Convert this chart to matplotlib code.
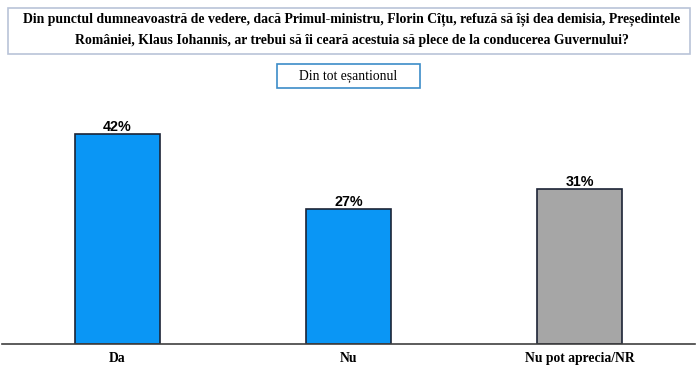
import matplotlib.pyplot as plt
from matplotlib.patches import Rectangle

# Date
categorii = ['Da', 'Nu', 'Nu pot aprecia/NR']
procente = [42, 27, 31]
culori = ['#0a96f5', '#0a96f5', '#a6a6a6']
etichete = ['42%', '27%', '31%']

titlu = ("Din punctul dumneavoastră de vedere, dacă Primul-ministru, Florin Cîțu, refuză să își dea demisia, Președintele\n"
         "României, Klaus Iohannis, ar trebui să îi ceară acestuia să plece de la conducerea Guvernului?")
subtitlu = "Din tot eșantionul"

W, H = 700, 378
fig = plt.figure(figsize=(W / 100, H / 100), dpi=100)

# caseta titlului
fig.patches.append(Rectangle((8 / W, 1 - 54 / H), 682 / W, 46 / H, transform=fig.transFigure,
                             facecolor='white', edgecolor='#b9c3d8', linewidth=1.2))
fig.text(352 / W, 1 - 29.5 / H, titlu, ha='center', va='center', fontsize=9.9,
         fontweight='bold', family='Liberation Serif', linespacing=1.8)

# caseta subtitlului
fig.patches.append(Rectangle((277 / W, 1 - 88 / H), 143 / W, 24 / H, transform=fig.transFigure,
                             facecolor='white', edgecolor='#3c8cc8', linewidth=1.2))
fig.text(348.5 / W, 1 - 76 / H, subtitlu, ha='center', va='center', fontsize=9.8,
         family='Liberation Serif')

# axele
ax = fig.add_axes([2 / W, 1 - 344 / H, 693 / W, 250 / H])
x = range(len(categorii))
bare = ax.bar(x, procente, width=0.37, color=culori, edgecolor='#1c2436', linewidth=1.2)
for b, et in zip(bare, etichete):
    ax.annotate(et, (b.get_x() + b.get_width() / 2, b.get_height()), xytext=(0, 0),
                textcoords='offset points', ha='center', va='bottom',
                fontsize=10.3, fontweight='bold', family='Liberation Sans')

ax.set_xlim(-0.5, 2.5)
ax.set_ylim(0, 50)
ax.set_xticks(list(x))
ax.set_xticklabels(categorii, fontsize=9.8, fontweight='bold', family='Liberation Serif')
ax.tick_params(axis='x', length=0, pad=6)
ax.set_yticks([])
for s in ['top', 'right', 'left']:
    ax.spines[s].set_visible(False)
ax.spines['bottom'].set_color('#404040')
ax.spines['bottom'].set_linewidth(1.2)

fig.savefig('out.png', dpi=100)
